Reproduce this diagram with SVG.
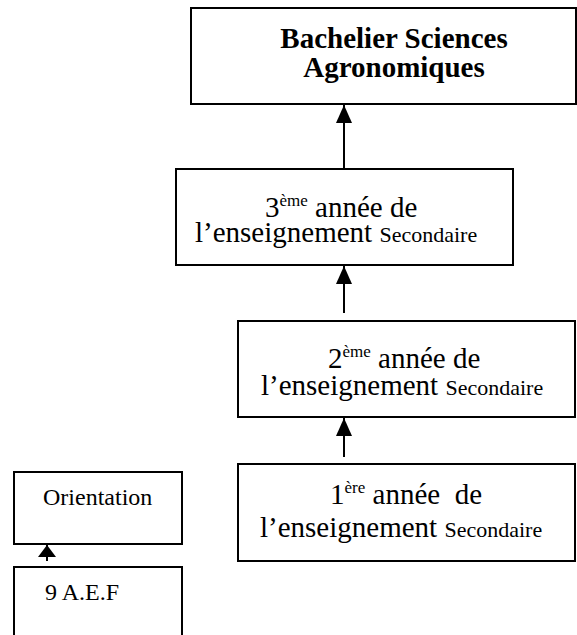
<svg xmlns="http://www.w3.org/2000/svg" width="577" height="635" viewBox="0 0 577 635">
<style>
.box{fill:#fff;stroke:#000;stroke-width:2}
.t{font-family:"Liberation Serif","Times New Roman",serif;font-size:29px;fill:#000}
.b{font-weight:bold}
.sm{font-size:22px}
.sup{font-size:17px}
.o{font-size:24px}
.ln{stroke:#000;stroke-width:2;fill:none}
</style>
<defs>
<marker id="ah" viewBox="0 0 18 16" refX="18" refY="8" markerWidth="18" markerHeight="16" markerUnits="userSpaceOnUse" orient="auto">
<path d="M0,0 L18,8 L0,16 Z" fill="#000"/>
</marker>
<marker id="ahs" viewBox="0 0 12 18" refX="12" refY="9" markerWidth="12" markerHeight="18" markerUnits="userSpaceOnUse" orient="auto">
<path d="M0,0 L12,9 L0,18 Z" fill="#000"/>
</marker>
</defs>
<g id="n-bachelier">
<rect class="box" x="191" y="8" width="385" height="96"/>
<text class="t b" x="394" y="48" text-anchor="middle">Bachelier Sciences</text>
<text class="t b" x="394" y="77" text-anchor="middle">Agronomiques</text>
</g>
<g id="n-3eme">
<rect class="box" x="176" y="169" width="337" height="96"/>
<text class="t" x="265" y="217">3<tspan class="sup" dy="-11">ème</tspan><tspan dy="11"> année de</tspan></text>
<text class="t" x="195" y="242">l’enseignement <tspan class="sm">Secondaire</tspan></text>
</g>
<g id="n-2eme">
<rect class="box" x="238" y="321" width="337" height="96"/>
<text class="t" x="328" y="368">2<tspan class="sup" dy="-11">ème</tspan><tspan dy="11"> année de</tspan></text>
<text class="t" x="261" y="395">l’enseignement <tspan class="sm">Secondaire</tspan></text>
</g>
<g id="n-1ere">
<rect class="box" x="238" y="464" width="337" height="97"/>
<text class="t" x="330" y="504" xml:space="preserve">1<tspan class="sup" dy="-11">ère</tspan><tspan dy="11"> année  de</tspan></text>
<text class="t" x="260" y="537">l’enseignement <tspan class="sm">Secondaire</tspan></text>
</g>
<g id="n-orientation">
<rect class="box" x="14" y="472" width="168" height="72"/>
<text class="t o" x="43" y="505">Orientation</text>
</g>
<g id="n-9aef">
<rect class="box" x="14" y="567" width="168" height="80"/>
<text class="t o" x="45" y="600">9 A.E.F</text>
</g>
<g id="connectors">
<line class="ln" x1="344" y1="457" x2="344" y2="418" marker-end="url(#ah)"/>
<line class="ln" x1="344" y1="313" x2="344" y2="266" marker-end="url(#ah)"/>
<line class="ln" x1="344" y1="169" x2="344" y2="105" marker-end="url(#ah)"/>
<line class="ln" x1="47" y1="561" x2="47" y2="545" marker-end="url(#ahs)"/>
</g>
</svg>
